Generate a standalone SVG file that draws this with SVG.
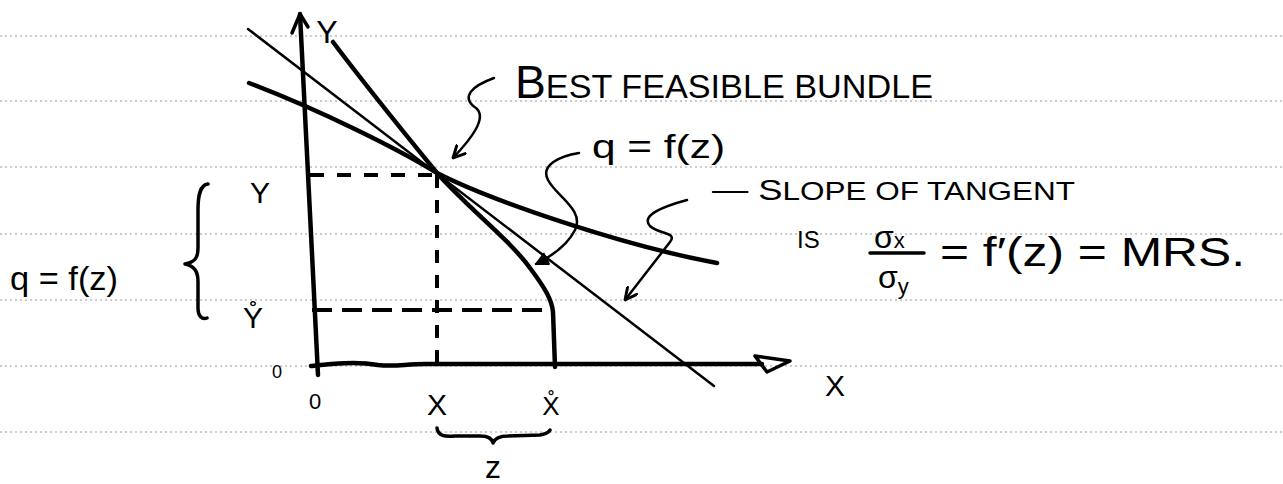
<svg xmlns="http://www.w3.org/2000/svg" width="1283" height="484" viewBox="0 0 1283 484">
<style>
.ink{fill:none;stroke:#000;stroke-linecap:round;stroke-linejoin:round}
.thick{stroke-width:4.5}
.mid{stroke-width:3.5}
.thin{stroke-width:2.5}
.dash{fill:none;stroke:#000;stroke-width:4}
.rule{stroke:#9a9a9a;stroke-width:1;stroke-dasharray:2 3}
text{font-family:"Liberation Sans","DejaVu Sans",sans-serif;fill:#000}
</style>
<defs>
<marker id="vhead" viewBox="0 0 12 12" refX="11" refY="6" markerWidth="14" markerHeight="14" markerUnits="userSpaceOnUse" orient="auto">
<path d="M1,1 L11,6 L1,11" fill="none" stroke="#000" stroke-width="2.5" stroke-linecap="round" stroke-linejoin="round"/>
</marker>
<marker id="fhead" viewBox="0 0 12 12" refX="11" refY="6" markerWidth="14" markerHeight="14" markerUnits="userSpaceOnUse" orient="auto">
<path d="M1,1 L11,6 L1,11 Z" fill="#000" stroke="#000" stroke-width="1.5" stroke-linejoin="round"/>
</marker>
</defs>
<rect width="1283" height="484" fill="#fff"/>
<g id="ruled-paper">
<line class="rule" x1="0" y1="36" x2="1283" y2="36"/>
<line class="rule" x1="0" y1="101" x2="1283" y2="101"/>
<line class="rule" x1="0" y1="167" x2="1283" y2="167"/>
<line class="rule" x1="0" y1="234" x2="1283" y2="234"/>
<line class="rule" x1="0" y1="300" x2="1283" y2="300"/>
<line class="rule" x1="0" y1="366" x2="1283" y2="366"/>
<line class="rule" x1="0" y1="432" x2="1283" y2="432"/>
</g>
<g id="y-axis">
<path class="ink thick" d="M300,14 C304,100 312,250 318,375"/>
<path class="ink mid" d="M292,33 L300,14 L308,27"/>
<text x="327" y="43" font-size="32" text-anchor="middle">Y</text>
</g>
<g id="x-axis">
<path class="ink thick" d="M311,366 C330,364 355,361 378,365 C395,367 405,364 425,364 L762,364"/>
<polygon class="ink mid" points="755,356 790,361 767,372"/>
<text x="835" y="396" font-size="30" text-anchor="middle">X</text>
</g>
<g id="tangent-line">
<path class="ink thin" d="M248,29 L714,386"/>
</g>
<g id="indifference-curve">
<path class="ink thick" d="M249,83 C320,110 400,150 437,173 C490,200 620,245 717,263"/>
</g>
<g id="production-frontier">
<path class="ink thick" d="M333,42 C360,78 410,140 437,173 C470,210 510,240 530,268 C545,288 552,300 553,312 L555,367"/>
</g>
<g id="guides">
<path class="dash" stroke-dasharray="14 13" d="M310,175 L437,175"/>
<path class="dash" stroke-dasharray="13 12" d="M437,175 L437,373"/>
<path class="dash" stroke-dasharray="20 10" d="M312,310 L550,310"/>
</g>
<g id="axis-labels">
<text x="277" y="378" font-size="18" text-anchor="middle">0</text>
<text x="315" y="409" font-size="22" text-anchor="middle">0</text>
<text x="437" y="415" font-size="30" text-anchor="middle">X</text>
<text x="551" y="415" font-size="26" text-anchor="middle">X̊</text>
<text x="260" y="203" font-size="30" text-anchor="middle">Y</text>
<text x="253" y="328" font-size="30" text-anchor="middle">Y̊</text>
</g>
<g id="z-brace">
<path class="ink mid" d="M437,428 C438,436 445,437 455,436 L480,436 C488,436 492,438 493,443 C495,438 500,436 508,436 L540,435 C546,434 549,432 550,430"/>
<text x="493" y="478" font-size="32" text-anchor="middle">z</text>
</g>
<g id="q-brace">
<path class="ink mid" d="M208,184 C200,185 198,195 198,210 L198,248 C198,258 195,262 185,264 C195,266 198,272 198,282 L198,308 C198,316 202,320 207,318"/>
<text x="10" y="290" font-size="34" textLength="108" lengthAdjust="spacingAndGlyphs">q = f(z)</text>
</g>
<g id="label-best">
<text x="515" y="98" textLength="418" lengthAdjust="spacingAndGlyphs"><tspan font-size="46">B</tspan><tspan font-size="34">EST FEASIBLE BUNDLE</tspan></text>
</g>
<g id="label-q">
<text x="592" y="158" font-size="34" textLength="133" lengthAdjust="spacingAndGlyphs">q = f(z)</text>
</g>
<g id="label-slope">
<text x="712" y="200" textLength="363" lengthAdjust="spacingAndGlyphs"><tspan font-size="30">— S</tspan><tspan font-size="26">LOPE OF TANGENT</tspan></text>
<text x="797" y="248" font-size="24">IS</text>
<text x="874" y="248" font-size="32">σ<tspan font-size="22">x</tspan></text>
<line class="ink mid" x1="870" y1="253" x2="924" y2="253"/>
<text x="878" y="288" font-size="32">σ<tspan font-size="22" dy="6">y</tspan></text>
<text x="940" y="266" font-size="40" textLength="305" lengthAdjust="spacingAndGlyphs">= f′(z) = MRS.</text>
</g>
<g id="connectors">
<path class="ink thin" marker-end="url(#vhead)" d="M494,78 C472,86 460,97 476,108 C488,118 470,140 453,158"/>
<path class="ink thin" marker-end="url(#fhead)" d="M579,153 C560,156 540,165 548,180 C556,196 585,210 575,230 C568,244 552,256 536,264"/>
<path class="ink thin" marker-end="url(#vhead)" d="M687,200 C665,206 640,215 650,226 C658,234 678,232 670,242 L625,300"/>
</g>
</svg>
